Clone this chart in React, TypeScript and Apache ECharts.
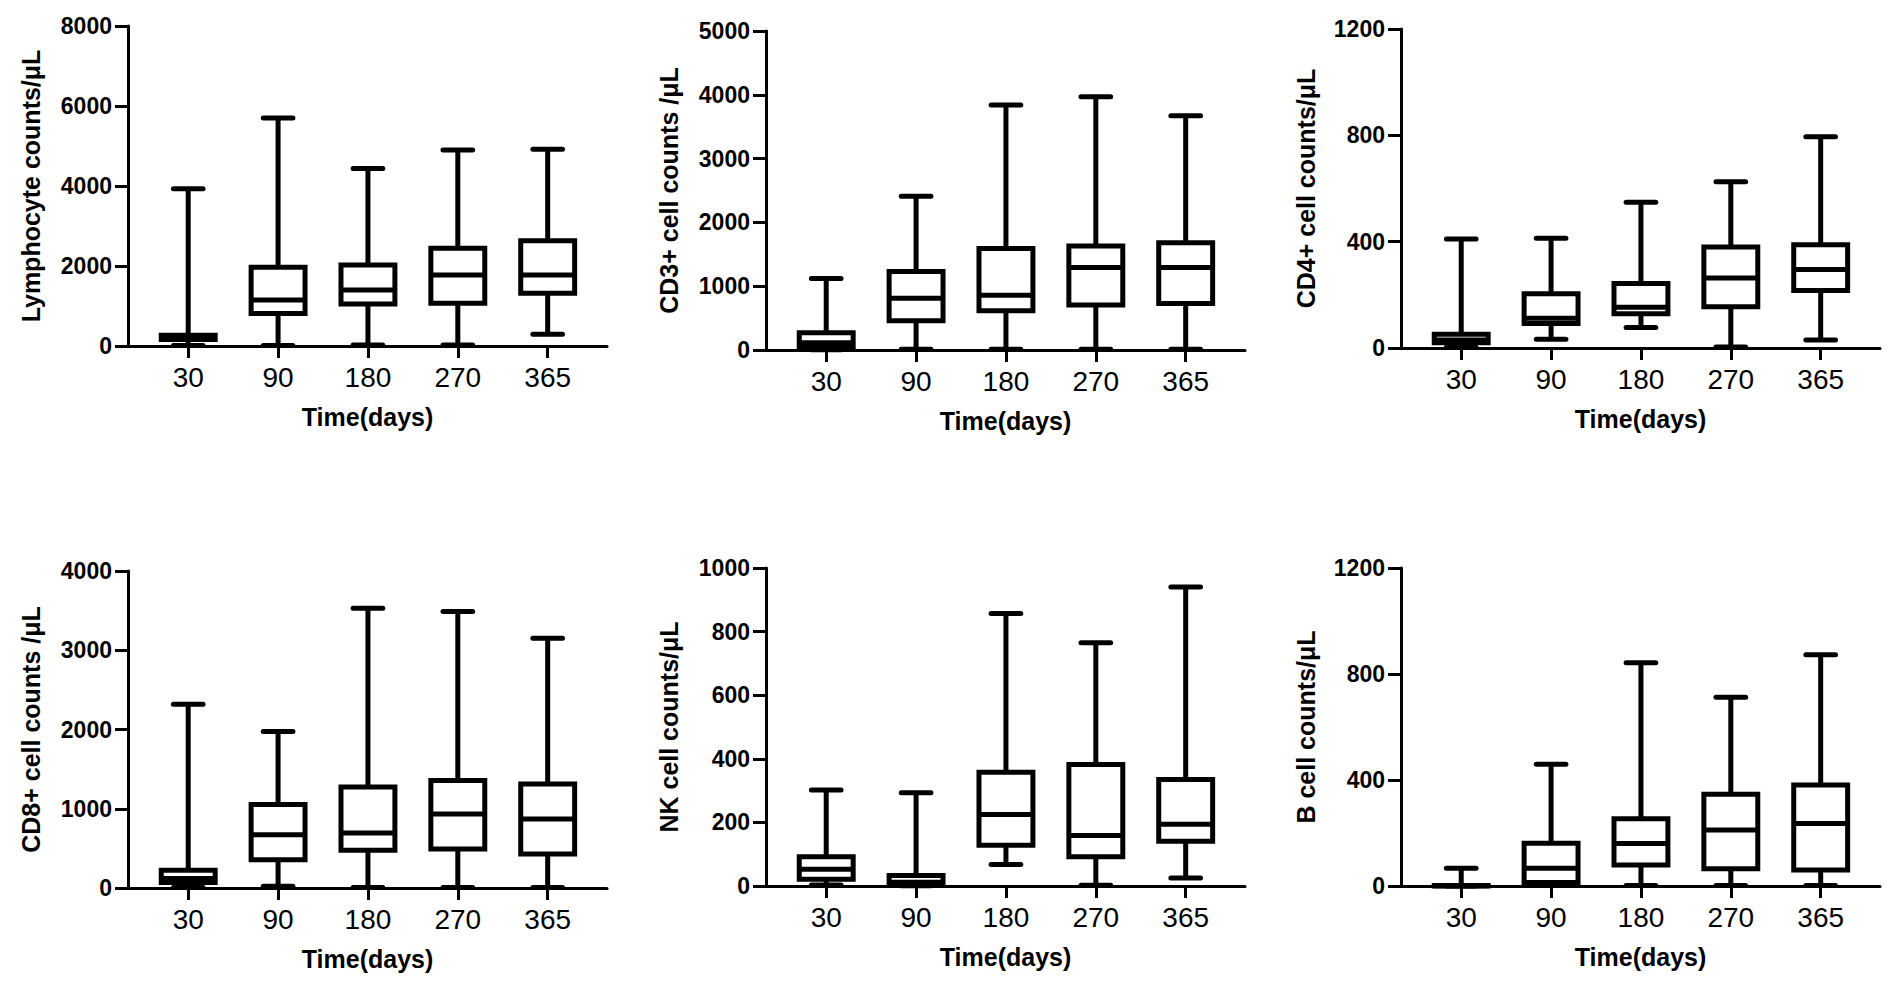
import React, { useEffect, useRef } from 'react';
import * as echarts from 'echarts';

// Time points (days)
const categories = ['30', '90', '180', '270', '365'];

// Each row: [min, Q1, median, Q3, max], one row per time point
const lymphocyte = [
  [10, 165, 220, 270, 3930],
  [15, 810, 1150, 1967, 5700],
  [25, 1050, 1400, 2025, 4440],
  [25, 1067, 1775, 2442, 4900],
  [292, 1317, 1775, 2633, 4917],
];
const cd3 = [
  [5, 45, 115, 270, 1120],
  [10, 460, 810, 1230, 2410],
  [10, 615, 860, 1590, 3840],
  [10, 705, 1295, 1630, 3970],
  [10, 730, 1295, 1680, 3670],
];
const cd4 = [
  [3, 20, 30, 52, 410],
  [33, 92, 112, 204, 413],
  [77, 129, 153, 243, 548],
  [4, 155, 263, 380, 625],
  [30, 216, 295, 388, 795],
];
const cd8 = [
  [5, 70, 120, 225, 2320],
  [21, 357, 672, 1055, 1975],
  [5, 475, 693, 1273, 3530],
  [5, 492, 933, 1357, 3490],
  [5, 429, 870, 1311, 3150],
];
const nk = [
  [3, 21, 53, 92, 302],
  [1, 6, 12, 33, 293],
  [68, 128, 225, 358, 857],
  [2, 92, 159, 382, 765],
  [25, 141, 194, 335, 940],
];
const bCell = [
  [0, 0, 1, 2, 67],
  [3, 13, 67, 161, 459],
  [2, 79, 160, 254, 842],
  [2, 65, 211, 346, 712],
  [2, 60, 236, 381, 873],
];

const yNames = [
  'Lymphocyte counts/μL',
  'CD3+ cell counts /μL',
  'CD4+ cell counts/μL',
  'CD8+ cell counts /μL',
  'NK cell counts/μL',
  'B cell counts/μL',
];
const yMax = [8000, 5000, 1200, 4000, 1000, 1200];
const yInterval = [2000, 1000, 400, 1000, 200, 400];
const xName = 'Time(days)';

const FONT = '"Liberation Sans", Arial, Helvetica, sans-serif';

const renderBox = (params: any, api: any) => {
  const x = api.value(0);
  const unit = api.size([1, 0])[0];
  const halfBox = unit * 0.3;
  const halfCap = unit * 0.165;
  const pMin = api.coord([x, api.value(1)]);
  const pQ1 = api.coord([x, api.value(2)]);
  const pMed = api.coord([x, api.value(3)]);
  const pQ3 = api.coord([x, api.value(4)]);
  const pMax = api.coord([x, api.value(5)]);
  const cx = pMed[0];
  const lineStyle = { stroke: '#000', lineWidth: 5, fill: null };
  const capStyle = { stroke: '#000', lineWidth: 5, lineCap: 'round', fill: null };
  return {
    type: 'group',
    children: [
      { type: 'line', shape: { x1: cx, y1: pQ3[1], x2: cx, y2: pMax[1] }, style: lineStyle },
      { type: 'line', shape: { x1: cx, y1: pMin[1], x2: cx, y2: pQ1[1] }, style: lineStyle },
      { type: 'line', shape: { x1: cx - halfCap, y1: pMax[1], x2: cx + halfCap, y2: pMax[1] }, style: capStyle },
      { type: 'line', shape: { x1: cx - halfCap, y1: pMin[1], x2: cx + halfCap, y2: pMin[1] }, style: capStyle },
      {
        type: 'rect',
        shape: { x: cx - halfBox, y: pQ3[1], width: halfBox * 2, height: pQ1[1] - pQ3[1] },
        style: { stroke: '#000', lineWidth: 5, fill: '#fff', lineJoin: 'miter' },
      },
      { type: 'line', shape: { x1: cx - halfBox, y1: pMed[1], x2: cx + halfBox, y2: pMed[1] }, style: lineStyle },
    ],
  };
};

export default function App() {
  const ref = useRef<HTMLDivElement>(null);

  useEffect(() => {
    if (!ref.current) return;
    const chart = echarts.init(ref.current, null, { renderer: 'svg' });

    const datasets = [lymphocyte, cd3, cd4, cd8, nk, bCell];
    const lefts = [128, 766, 1401, 128, 766, 1401];
    const tops = [26, 31, 29, 571, 568, 568];
    const heights = [320, 319, 319, 317, 318, 318];
    const nameGaps = [85, 85, 83, 85, 85, 83];
    const ticks = categories.map((_, i) => i);

    const option: any = {
      animation: false,
      backgroundColor: '#fff',
      grid: datasets.map((_, i) => ({
        left: lefts[i],
        top: tops[i],
        width: 479,
        height: heights[i],
      })),
      xAxis: datasets.map((_, i) => ({
        type: 'value',
        gridIndex: i,
        min: -0.67,
        max: 4.66,
        axisLine: { show: true, onZero: false, lineStyle: { color: '#000', width: 3 } },
        axisTick: { show: true, length: 12, customValues: ticks, lineStyle: { color: '#000', width: 3 } },
        axisLabel: {
          customValues: ticks,
          formatter: (v: number) => categories[Math.round(v)] ?? '',
          color: '#000',
          fontSize: 28,
          fontFamily: FONT,
          margin: 17,
        },
        splitLine: { show: false },
        name: xName,
        nameLocation: 'middle',
        nameGap: 58,
        nameTextStyle: { color: '#000', fontSize: 25, fontWeight: 'bold', fontFamily: FONT },
      })),
      yAxis: datasets.map((_, i) => ({
        type: 'value',
        gridIndex: i,
        min: 0,
        max: yMax[i],
        interval: yInterval[i],
        axisLine: { show: true, onZero: false, lineStyle: { color: '#000', width: 3 } },
        axisTick: { show: true, length: 13, lineStyle: { color: '#000', width: 3 } },
        axisLabel: {
          color: '#000',
          fontSize: 23,
          fontWeight: 'bold',
          fontFamily: FONT,
          margin: 16,
          formatter: (v: number) => String(v),
        },
        splitLine: { show: false },
        name: yNames[i],
        nameLocation: 'middle',
        nameGap: nameGaps[i],
        nameTextStyle: { color: '#000', fontSize: 25, fontWeight: 'bold', fontFamily: FONT },
      })),
      series: datasets.map((d, i) => ({
        type: 'custom',
        name: yNames[i],
        xAxisIndex: i,
        yAxisIndex: i,
        renderItem: renderBox,
        encode: { x: 0, y: [1, 2, 3, 4, 5] },
        data: d.map((row, j) => [j, ...row]),
        clip: false,
        z: 3,
      })),
    };

    chart.setOption(option);
    return () => chart.dispose();
  }, []);

  return (
    <div
      ref={ref}
      style={{ position: 'absolute', left: 0, top: 0, width: 1901, height: 1002, background: '#fff' }}
    />
  );
}
